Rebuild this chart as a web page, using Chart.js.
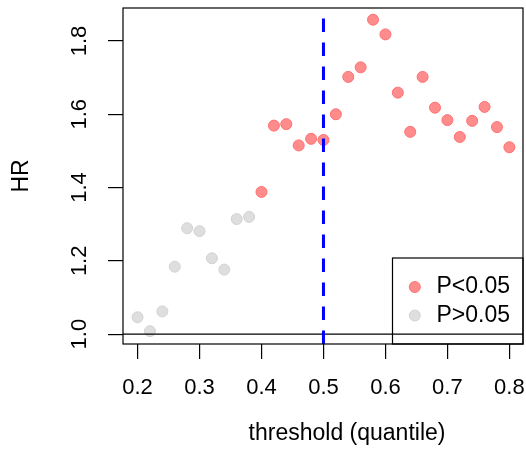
<!DOCTYPE html>
<html lang="en">
<head>
    <meta charset="UTF-8">
    <title>HR by threshold quantile</title>
    <script src="https://cdn.jsdelivr.net/npm/chart.js"></script>
    <style>
        html, body {
            margin: 0;
            padding: 0;
            background: #fff;
        }

        #chart-container {
            width: 526px;
            height: 449px;
        }
    </style>
</head>
<body>

    <div id="chart-container">
        <canvas id="hr-chart" width="526" height="449"></canvas>
    </div>

    <script>
        // threshold quantiles and hazard ratios
        const thresholds = [0.20, 0.22, 0.24, 0.26, 0.28, 0.30, 0.32, 0.34, 0.36, 0.38,
                            0.40, 0.42, 0.44, 0.46, 0.48, 0.50, 0.52, 0.54, 0.56, 0.58,
                            0.60, 0.62, 0.64, 0.66, 0.68, 0.70, 0.72, 0.74, 0.76, 0.78, 0.80];
        const hrValues = [1.046, 1.008, 1.062, 1.184, 1.289, 1.281, 1.207, 1.176, 1.314, 1.320,
                          1.388, 1.569, 1.573, 1.515, 1.533, 1.530, 1.600, 1.702, 1.728, 1.858,
                          1.818, 1.659, 1.552, 1.702, 1.618, 1.584, 1.538, 1.582, 1.620, 1.565, 1.510];
        const pValues = ['>', '>', '>', '>', '>', '>', '>', '>', '>', '>',
                         '<', '<', '<', '<', '<', '<', '<', '<', '<', '<',
                         '<', '<', '<', '<', '<', '<', '<', '<', '<', '<', '<'];

        const xTicks = [0.2, 0.3, 0.4, 0.5, 0.6, 0.7, 0.8];
        const yTicks = [1.0, 1.2, 1.4, 1.6, 1.8];
        const xRange = [0.1765, 0.822];
        const yRange = [0.973, 1.89];
        const cutoff = 0.5;
        const refHR = 1.0;

        const FONT = '"Liberation Sans", Arial, Helvetica, sans-serif';

        const pointsFor = (sign) => thresholds
            .map((t, i) => ({ x: t, y: hrValues[i], s: pValues[i] }))
            .filter(p => p.s === sign)
            .map(p => ({ x: p.x, y: p.y }));

        // box around the plot region, like R's box()
        const plotBox = {
            id: 'plotBox',
            afterDatasetsDraw(chart) {
                const { ctx, chartArea: a } = chart;
                ctx.save();
                ctx.strokeStyle = '#000';
                ctx.lineWidth = 1.2;
                ctx.strokeRect(a.left, a.top, a.right - a.left, a.bottom - a.top);
                ctx.restore();
            }
        };

        // x label sits a bit right of centre in the original
        const xLabel = {
            id: 'xLabel',
            afterDraw(chart) {
                const { ctx } = chart;
                ctx.save();
                ctx.font = '23px ' + FONT;
                ctx.fillStyle = '#000';
                ctx.textAlign = 'center';
                ctx.textBaseline = 'alphabetic';
                ctx.fillText('threshold (quantile)', 347, 440);
                ctx.restore();
            }
        };

        // boxed legend in the bottom right corner
        const cornerLegend = {
            id: 'cornerLegend',
            afterDraw(chart) {
                const { ctx, chartArea: a } = chart;
                const w = 130.5, h = 86;
                const x0 = a.right - w, y0 = a.bottom - h;
                ctx.save();
                ctx.strokeStyle = '#000';
                ctx.lineWidth = 1.2;
                ctx.strokeRect(x0, y0, w, h);
                const items = chart.data.datasets.filter(d => d.inLegend);
                items.forEach((d, i) => {
                    const cy = y0 + 29 + i * 28.5;
                    ctx.beginPath();
                    ctx.arc(x0 + 22.3, cy, 5.5, 0, Math.PI * 2);
                    ctx.fillStyle = d.backgroundColor;
                    ctx.fill();
                    ctx.lineWidth = 1;
                    ctx.strokeStyle = d.borderColor;
                    ctx.stroke();
                    ctx.font = '23px ' + FONT;
                    ctx.fillStyle = '#000';
                    ctx.textAlign = 'left';
                    ctx.textBaseline = 'middle';
                    ctx.fillText(d.label, x0 + 44, cy);
                });
                ctx.restore();
            }
        };

        const ctx = document.getElementById('hr-chart').getContext('2d');
        const hrChart = new Chart(ctx, {
            type: 'scatter',
            data: {
                datasets: [
                    {
                        type: 'line',
                        label: 'cutoff',
                        data: [{ x: cutoff, y: yRange[0] }, { x: cutoff, y: yRange[1] }],
                        borderColor: '#0000FF',
                        borderWidth: 3,
                        borderDash: [13.5, 10.5],
                        pointRadius: 0,
                        order: 0
                    },
                    {
                        type: 'line',
                        label: 'HR = 1',
                        data: [{ x: xRange[0], y: refHR }, { x: xRange[1], y: refHR }],
                        borderColor: '#000',
                        borderWidth: 1.2,
                        pointRadius: 0,
                        order: 1
                    },
                    {
                        label: 'P<0.05',
                        inLegend: true,
                        data: pointsFor('<'),
                        backgroundColor: '#FF8C8C',
                        borderColor: '#FF7070',
                        borderWidth: 1,
                        pointRadius: 5.5,
                        pointHoverRadius: 5.5,
                        order: 2
                    },
                    {
                        label: 'P>0.05',
                        inLegend: true,
                        data: pointsFor('>'),
                        backgroundColor: '#DEDEDE',
                        borderColor: '#D2D2D2',
                        borderWidth: 1,
                        pointRadius: 5.5,
                        pointHoverRadius: 5.5,
                        order: 3
                    }
                ]
            },
            options: {
                responsive: false,
                animation: false,
                layout: {
                    autoPadding: false,
                    padding: { top: 8, right: 3, left: 0, bottom: 0 }
                },
                scales: {
                    x: {
                        type: 'linear',
                        min: xRange[0],
                        max: xRange[1],
                        afterFit: (scale) => {
                            scale.height = 105;
                            scale.paddingLeft = 0;
                            scale.paddingRight = 0;
                        },
                        afterBuildTicks: (scale) => { scale.ticks = xTicks.map(v => ({ value: v })); },
                        ticks: {
                            color: '#000',
                            font: { size: 22, family: FONT },
                            padding: 16,
                            maxRotation: 0,
                            callback: (v) => v.toFixed(1)
                        },
                        grid: {
                            drawOnChartArea: false,
                            tickLength: 15,
                            color: '#000',
                            lineWidth: 1.2
                        },
                        border: { display: false }
                    },
                    y: {
                        type: 'linear',
                        min: yRange[0],
                        max: yRange[1],
                        afterFit: (scale) => {
                            scale.width = 123;
                            scale.paddingTop = 0;
                            scale.paddingBottom = 0;
                        },
                        afterBuildTicks: (scale) => { scale.ticks = yTicks.map(v => ({ value: v })); },
                        ticks: {
                            color: '#000',
                            font: { size: 22, family: FONT },
                            padding: 12.5,
                            minRotation: 90,
                            maxRotation: 90,
                            crossAlign: 'center',
                            callback: (v) => v.toFixed(1)
                        },
                        grid: {
                            drawOnChartArea: false,
                            tickLength: 15,
                            color: '#000',
                            lineWidth: 1.2
                        },
                        border: { display: false },
                        title: {
                            display: true,
                            text: 'HR',
                            color: '#000',
                            font: { size: 23, family: FONT },
                            padding: { top: 8, bottom: 0 }
                        }
                    }
                },
                plugins: {
                    legend: { display: false },
                    tooltip: { enabled: false }
                }
            },
            plugins: [plotBox, xLabel, cornerLegend]
        });
    </script>

</body>
</html>
